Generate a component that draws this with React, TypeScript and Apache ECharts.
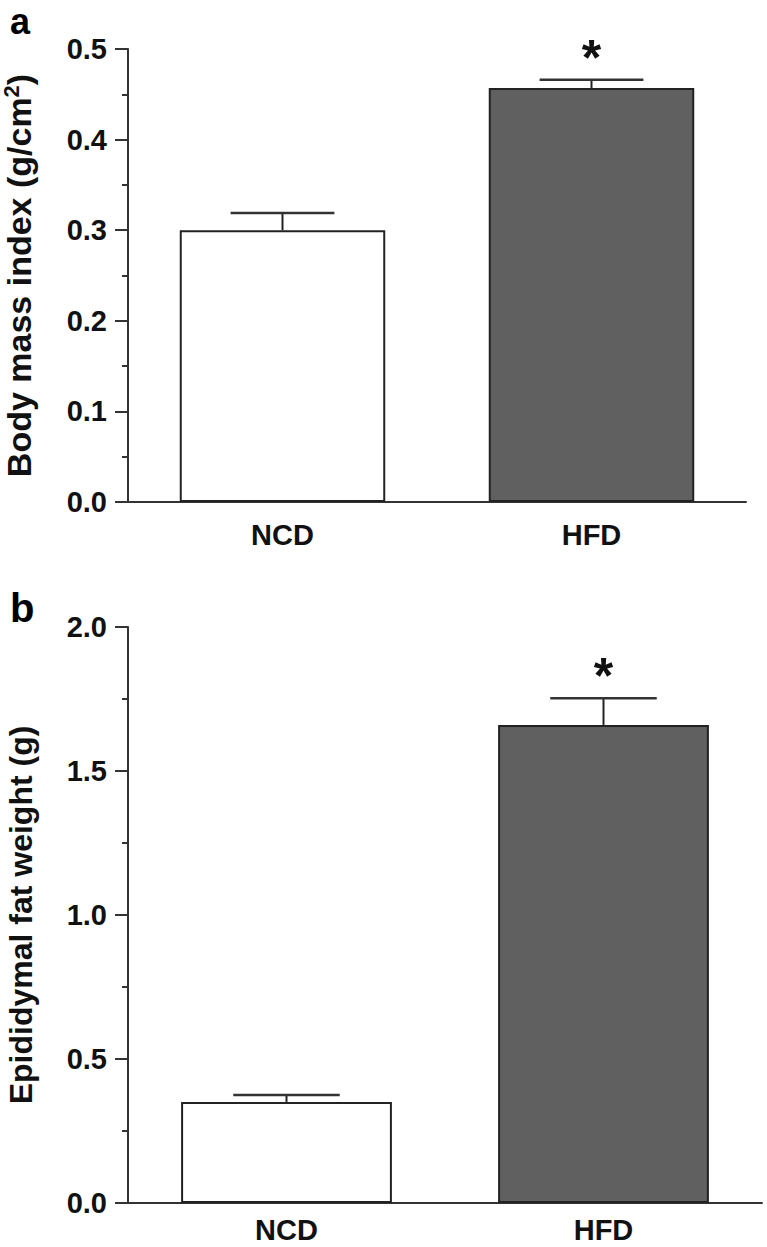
import React, { useEffect, useRef } from "react";
import * as echarts from "echarts";

const categories = ["NCD", "HFD"];
const bmiValues = [0.3, 0.457];
const bmiErrors = [0.019, 0.009];
const fatValues = [0.351, 1.66];
const fatErrors = [0.024, 0.093];
const significance = ["", "*"];
const barColors = ["#ffffff", "#606060"];
const bmiAxis = { min: 0, max: 0.5, interval: 0.1 };
const fatAxis = { min: 0, max: 2.0, interval: 0.5 };
const panelLetters = ["a", "b"];

const FONT = '"Liberation Sans", Arial, Helvetica, sans-serif';
const INK = "#222222";

function makeErrorSeries(values: number[], errors: number[], idx: number) {
  return {
    type: "custom",
    xAxisIndex: idx,
    yAxisIndex: idx,
    z: 5,
    data: values.map((v, i) => [i, v, errors[i]]),
    encode: { x: 0, y: 1 },
    renderItem: (params: any, api: any) => {
      const i = api.value(0);
      const v = api.value(1);
      const e = api.value(2);
      const base = api.coord([i, v]);
      const top = api.coord([i, v + e]);
      const half = api.size([1, 0])[0] * 0.168;
      const children: any[] = [
        {
          type: "line",
          shape: { x1: base[0], y1: base[1], x2: top[0], y2: top[1] },
          style: { stroke: INK, lineWidth: 2 },
        },
        {
          type: "line",
          shape: { x1: top[0] - half, y1: top[1], x2: top[0] + half, y2: top[1] },
          style: { stroke: "#333333", lineWidth: 2.5 },
        },
      ];
      const s = significance[params.dataIndex];
      if (s) {
        children.push({
          type: "text",
          style: {
            text: s,
            x: top[0],
            y: top[1] - 22,
            align: "center",
            verticalAlign: "middle",
            font: `bold 50px ${FONT}`,
            fill: "#111111",
          },
        });
      }
      return { type: "group", children };
    },
  };
}

function makeBarSeries(values: number[], idx: number) {
  return {
    type: "bar",
    xAxisIndex: idx,
    yAxisIndex: idx,
    barWidth: "66.5%",
    z: 3,
    data: values.map((v, i) => ({
      value: v,
      itemStyle: { color: barColors[i], borderColor: INK, borderWidth: 2 },
    })),
  };
}

function yAxisCfg(gridIndex: number, range: any, name: any, nameSize: number, nameGap: number, rich?: any) {
  return {
    type: "value",
    gridIndex,
    min: range.min,
    max: range.max,
    interval: range.interval,
    name,
    nameLocation: "middle",
    nameGap,
    nameRotate: 90,
    nameTextStyle: {
      fontFamily: FONT,
      fontWeight: "bold",
      fontSize: nameSize,
      color: "#111111",
      rich,
    },
    axisLine: { show: true, lineStyle: { color: "#333333", width: 2 } },
    axisTick: { show: true, length: 13, lineStyle: { color: "#333333", width: 2 } },
    minorTick: { show: true, splitNumber: 2, length: 6, lineStyle: { color: "#333333", width: 2 } },
    splitLine: { show: false },
    axisLabel: {
      margin: 21,
      fontFamily: FONT,
      fontWeight: "bold",
      fontSize: 29,
      color: "#111111",
      formatter: (v: number) => v.toFixed(1),
    },
  };
}

function xAxisCfg(gridIndex: number, margin: number) {
  return {
    type: "category",
    gridIndex,
    data: categories,
    axisLine: { show: true, lineStyle: { color: "#333333", width: 2 } },
    axisTick: { show: false },
    axisLabel: {
      margin,
      lineHeight: 16,
      fontFamily: FONT,
      fontWeight: "bold",
      fontSize: 29,
      color: "#111111",
    },
  };
}

export default function App() {
  const ref = useRef<HTMLDivElement>(null);
  useEffect(() => {
    if (!ref.current) return;
    const chart = echarts.init(ref.current, undefined, { renderer: "svg" });
    const supRich = {
      sup: {
        fontFamily: FONT,
        fontWeight: "bold",
        fontSize: 22,
        color: "#111111",
        verticalAlign: "top",
        padding: [0, 0, 16, 0],
      },
    };
    chart.setOption({
      animation: false,
      backgroundColor: "#ffffff",
      grid: [
        { left: 128, right: 21, top: 49, height: 453, outerBoundsMode: "none" },
        { left: 128, right: 5, top: 627, height: 576, outerBoundsMode: "none" },
      ],
      xAxis: [xAxisCfg(0, 25), xAxisCfg(1, 19)],
      yAxis: [
        yAxisCfg(0, bmiAxis, "Body mass index (g/cm{sup|2})", 34, 90, supRich),
        yAxisCfg(1, fatAxis, "Epididymal fat weight (g)", 32, 91),
      ],
      graphic: [
        {
          type: "text",
          left: 10,
          top: 3,
          style: { text: panelLetters[0], font: `bold 36px ${FONT}`, fill: "#000000" },
        },
        {
          type: "text",
          left: 10,
          top: 588,
          style: { text: panelLetters[1], font: `bold 40px ${FONT}`, fill: "#000000" },
        },
      ],
      series: [
        makeBarSeries(bmiValues, 0),
        makeErrorSeries(bmiValues, bmiErrors, 0),
        makeBarSeries(fatValues, 1),
        makeErrorSeries(fatValues, fatErrors, 1),
      ],
    });
    return () => chart.dispose();
  }, []);
  return (
    <div
      ref={ref}
      style={{ position: "absolute", left: 0, top: 0, width: 767, height: 1247 }}
    />
  );
}
